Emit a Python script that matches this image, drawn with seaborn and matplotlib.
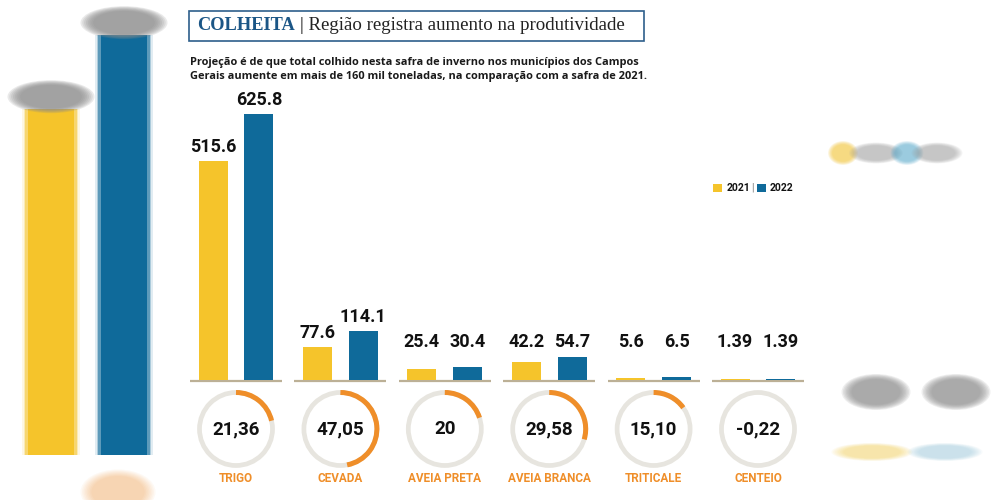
import matplotlib
matplotlib.use("Agg")
import matplotlib.pyplot as plt
import matplotlib.transforms as mtransforms
import seaborn as sns
import pandas as pd
from matplotlib.patches import Arc, Circle, Rectangle, Ellipse

# ---------------- data ----------------
crops = ["TRIGO", "CEVADA", "AVEIA PRETA", "AVEIA BRANCA", "TRITICALE", "CENTEIO"]
years = ["2021", "2022"]
prod_2021 = [515.6, 77.6, 25.4, 42.2, 5.6, 1.39]
prod_2022 = [625.8, 114.1, 30.4, 54.7, 6.5, 1.39]
labels_2021 = ["515.6", "77.6", "25.4", "42.2", "5.6", "1.39"]
labels_2022 = ["625.8", "114.1", "30.4", "54.7", "6.5", "1.39"]
growth_pct = [21.36, 47.05, 20, 29.58, 15.10, -0.22]
growth_labels = ["21,36", "47,05", "20", "29,58", "15,10", "-0,22"]

title_tag = "COLHEITA"
title_text = "| Região registra aumento na produtividade"
subtitle = ("Projeção é de que total colhido nesta safra de inverno nos municípios dos Campos\n"
            "Gerais aumente em mais de 160 mil toneladas, na comparação com a safra de 2021.")

df = pd.DataFrame({
    "crop": crops * 2,
    "year": [years[0]] * len(crops) + [years[1]] * len(crops),
    "value": prod_2021 + prod_2022,
})

YELLOW = "#f5c42b"
BLUE = "#0f6a9a"
ORANGE = "#ef8e29"
RING = "#e7e5df"
BASE = "#bcb096"
TITLE_BLUE = "#1b5686"

sns.set_style("white")
plt.rcParams["font.family"] = ["Roboto", "DejaVu Sans"]

W, H = 999, 500
fig = plt.figure(figsize=(W / 100, H / 100), dpi=100)
fig.patch.set_facecolor("white")

# background overlay (pixel units) for blurred decorations
back = fig.add_axes([0, 0, 1, 1], zorder=0)
back.set_xlim(0, W)
back.set_ylim(0, H)
back.axis("off")

# foreground overlay (pixel units)
ov = fig.add_axes([0, 0, 1, 1], zorder=5)
ov.set_xlim(0, W)
ov.set_ylim(0, H)
ov.axis("off")
ov.patch.set_alpha(0)


def soft_blob(target, cx, cy, w, h, color, alpha=0.5, layers=8):
    for k in range(layers):
        s = 1 + 0.5 * (layers - k) / layers
        target.add_patch(Ellipse((cx, cy), w * s, h * s, color=color,
                                 alpha=alpha / layers * 1.6, lw=0))


# ---------------- blurred background (zoomed copy of TRIGO) ----------------
bg = fig.add_axes([14.5 / W, 45 / H, 146 / W, 450 / H], zorder=0.5)
bg.patch.set_alpha(0)
trigo = df[df.crop == crops[0]]
for wd, al in [(0.80, 0.12), (0.74, 0.25), (0.70, 0.5)]:
    sns.barplot(data=trigo, x="year", y="value", hue="year", palette=[YELLOW, BLUE],
                width=wd, saturation=1, alpha=al, ax=bg, legend=False, errorbar=None,
                linewidth=0)
sns.barplot(data=trigo, x="year", y="value", hue="year", palette=[YELLOW, BLUE],
            width=0.64, saturation=1, ax=bg, legend=False, errorbar=None, linewidth=0)
bg.set_xlim(-0.5, 1.5)
bg.set_ylim(0, 670)
bg.axis("off")
for i, v in enumerate([prod_2021[0], prod_2022[0]]):
    px, py = back.transData.inverted().transform(bg.transData.transform((i, v)))
    soft_blob(ov, px, py + 12, 58, 22, "#8c8c8c", alpha=0.9)
soft_blob(ov, 118, 8, 50, 30, ORANGE, alpha=0.25)

# right side blurred copy of legend / centeio
soft_blob(back, 843, 347, 20, 16, YELLOW, alpha=0.5)
soft_blob(back, 876, 347, 36, 14, "#9a9a9a", alpha=0.45)
soft_blob(back, 907, 347, 22, 16, "#4aa3c8", alpha=0.45)
soft_blob(back, 937, 347, 34, 14, "#9a9a9a", alpha=0.45)
soft_blob(back, 876, 108, 46, 24, "#8a8a8a", alpha=0.7)
soft_blob(back, 956, 108, 46, 24, "#8a8a8a", alpha=0.7)
soft_blob(back, 872, 48, 54, 12, YELLOW, alpha=0.3)
soft_blob(back, 945, 48, 50, 12, "#8fc3d8", alpha=0.35)

# white panel behind the main infographic
panel = fig.add_axes([183 / W, 0, 632 / W, 1], zorder=1)
panel.set_facecolor("white")
panel.set_xticks([])
panel.set_yticks([])
for s in panel.spines.values():
    s.set_visible(False)

# ---------------- title ----------------
ov.add_patch(Rectangle((189, H - 41), 455, 30, fill=False, ec="#2d5f8b", lw=1.2, zorder=2))
t1 = ov.text(197, H - 26, title_tag, fontsize=13.2, fontweight="bold", color=TITLE_BLUE,
             family=["Liberation Serif"], va="center", ha="left", zorder=3)
fig.canvas.draw()
r = fig.canvas.get_renderer()
bb = t1.get_window_extent(r)
x1 = ov.transData.inverted().transform((bb.x1, 0))[0]
ov.text(x1 + 5, H - 26, title_text, fontsize=13.6, color="#222222",
        family=["Liberation Serif"], va="center", ha="left", zorder=3)

ov.text(190, H - 69.5, subtitle, fontsize=7.9, fontweight="bold", color="#1a1a1a",
        family=["Open Sans", "DejaVu Sans"], va="center", ha="left", linespacing=1.45)

# ---------------- main bars ----------------
ax = fig.add_axes([183.8 / W, (H - 380) / H, 626.4 / W, 281 / H], zorder=2)
ax.patch.set_alpha(0)
sns.barplot(data=df, x="crop", y="value", hue="year", palette=[YELLOW, BLUE],
            width=0.88, gap=0.37, saturation=1, ax=ax, legend=False, errorbar=None,
            linewidth=0, zorder=3)
ax.set_xlim(-0.5, len(crops) - 0.5)
ax.set_ylim(0, 661)
ax.axis("off")
LABEL_FLOOR = 56  # small values get their labels lifted to a common line
for cont, labs in zip(ax.containers, [labels_2021, labels_2022]):
    for patch, lab in zip(cont, labs):
        xc = patch.get_x() + patch.get_width() / 2
        yv = max(patch.get_height(), LABEL_FLOOR)
        ax.annotate(lab, (xc, yv), xytext=(0, 5), textcoords="offset pixels",
                    ha="center", va="bottom", fontsize=13, fontweight="bold",
                    color="#111111", annotation_clip=False)
below = ax.transData + mtransforms.ScaledTranslation(0, -1.0 / 100, fig.dpi_scale_trans)
for i in range(len(crops)):
    ax.plot([i - 0.44, i + 0.44], [0, 0], color=BASE, lw=1.6, clip_on=False,
            solid_capstyle="butt", transform=below, zorder=2)

# ---------------- growth rings ----------------
R = 36.5
CY = H - 429
for i, (g, gl, name) in enumerate(zip(growth_pct, growth_labels, crops)):
    cx = ov.transData.inverted().transform(ax.transData.transform((i, 0)))[0]
    ov.add_patch(Circle((cx, CY), R, fill=False, ec=RING, lw=3.4, zorder=3))
    if g > 0:
        ov.add_patch(Arc((cx, CY), 2 * R, 2 * R, theta1=90 - g / 100 * 360, theta2=90,
                         color=ORANGE, lw=3.6, zorder=4, capstyle="butt"))
    ov.text(cx, CY, gl, fontsize=13.5, fontweight="bold", color="#111111",
            ha="center", va="center", zorder=5)
    ov.text(cx, H - 478, name, fontsize=8.5, fontweight="bold", color=ORANGE,
            ha="center", va="center", zorder=5)

# ---------------- legend ----------------
ov.add_patch(Rectangle((713, H - 192), 8.5, 8.5, color=YELLOW, lw=0, zorder=5))
ov.text(727, H - 188, years[0], fontsize=7.5, fontweight="bold", color="#111111", va="center", ha="left")
ov.text(752.5, H - 188, "|", fontsize=7, color="#777777", va="center", ha="center")
ov.add_patch(Rectangle((757, H - 192), 8.5, 8.5, color=BLUE, lw=0, zorder=5))
ov.text(770, H - 188, years[1], fontsize=7.5, fontweight="bold", color="#111111", va="center", ha="left")

fig.savefig("out.png", dpi=100, facecolor="white")
